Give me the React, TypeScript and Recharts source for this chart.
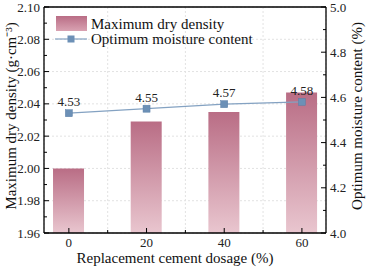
import React from 'react';
import {
  ComposedChart, Bar, Line, XAxis, YAxis, CartesianGrid, ReferenceLine, LabelList, Label
} from 'recharts';

const dosages = [0, 20, 40, 60];
const dryDensity = [2.0, 2.029, 2.035, 2.047];
const moisture = [4.53, 4.55, 4.57, 4.58];

const xTicks = [0, 10, 20, 30, 40, 50, 60];
const xMajor = [0, 20, 40, 60];
const xGrid = [10, 30, 50];
const leftTicks = [1.96, 1.97, 1.98, 1.99, 2.0, 2.01, 2.02, 2.03, 2.04, 2.05, 2.06, 2.07, 2.08, 2.09, 2.1];
const leftGrid = [1.98, 2.0, 2.02, 2.04, 2.06, 2.08];
const rightTicks = [4.0, 4.1, 4.2, 4.3, 4.4, 4.5, 4.6, 4.7, 4.8, 4.9, 5.0];

const data = dosages.map((d, i) => ({ x: d, density: dryDensity[i], moisture: moisture[i] }));

const FONT = '"Liberation Serif", "Times New Roman", serif';
const BAR_TOP = '#b96d85';
const BAR_BOTTOM = '#e9c6cf';
const LINE = '#84a2c2';
const MARKER = '#6c90b6';

const isMajor = (i: number) => i % 2 === 0;

const LeftTick = (props: any) => {
  const { x, y, payload, index } = props;
  const major = isMajor(index);
  return (
    <g>
      <line x1={x + 3} x2={x + 3 + (major ? 5 : 3)} y1={y} y2={y} stroke="#000" strokeWidth={1} />
      {major && (
        <text x={x - 1} y={y} dy={4.5} textAnchor="end" fontSize={13} fill="#222" fontFamily={FONT}>
          {payload.value.toFixed(2)}
        </text>
      )}
    </g>
  );
};

const RightTick = (props: any) => {
  const { x, y, payload, index } = props;
  const major = isMajor(index);
  return (
    <g>
      <line x1={x - 3} x2={x - 3 - (major ? 5 : 3)} y1={y} y2={y} stroke="#000" strokeWidth={1} />
      {major && (
        <text x={x + 1} y={y} dy={4.5} textAnchor="start" fontSize={13} fill="#222" fontFamily={FONT}>
          {payload.value.toFixed(1)}
        </text>
      )}
    </g>
  );
};

const BottomTick = (props: any) => {
  const { x, y, payload } = props;
  const major = xMajor.includes(payload.value);
  return (
    <g>
      <line x1={x} x2={x} y1={y - 3} y2={y - 3 - (major ? 5 : 3)} stroke="#000" strokeWidth={1} />
      {major && (
        <text x={x} y={y} dy={11} textAnchor="middle" fontSize={13} fill="#222" fontFamily={FONT}>
          {payload.value}
        </text>
      )}
    </g>
  );
};

const Square = (props: any) => {
  const { cx, cy } = props;
  if (cx == null || cy == null) return null;
  return <rect x={cx - 3.5} y={cy - 3.5} width={7} height={7} fill={MARKER} stroke="#5a7fa6" strokeWidth={0.5} />;
};

const ChartLegend = () => (
  <svg width={260} height={40} style={{ position: 'absolute', left: 50, top: 12 }}>
    <defs>
      <linearGradient id="legendGrad" x1="0" y1="0" x2="0" y2="1">
        <stop offset="0%" stopColor={BAR_TOP} />
        <stop offset="100%" stopColor="#d9a2b2" />
      </linearGradient>
    </defs>
    <rect x={6} y={4} width={31} height={15} fill="url(#legendGrad)" />
    <text x={41} y={16.5} fontSize={15} fill="#111" fontFamily={FONT}>Maximum dry density</text>
    <line x1={5} x2={37} y1={27} y2={27} stroke={LINE} strokeWidth={1.2} />
    <rect x={17.5} y={23.5} width={7} height={7} fill={MARKER} />
    <text x={41} y={32} fontSize={15} fill="#111" fontFamily={FONT}>Optimum moisture content</text>
  </svg>
);

export default function App() {
  return (
    <div style={{ position: 'absolute', left: 0, top: 0, width: 367, height: 270, background: '#fff' }}>
      <ComposedChart width={367} height={270} data={data} margin={{ top: 7, right: 0, bottom: 0, left: 0 }}>
        <defs>
          <linearGradient id="barGrad" x1="0" y1="0" x2="0" y2="1">
            <stop offset="0%" stopColor={BAR_TOP} />
            <stop offset="100%" stopColor={BAR_BOTTOM} />
          </linearGradient>
        </defs>
        <XAxis
          xAxisId="main"
          type="number"
          dataKey="x"
          domain={[-6.4, 66.2]}
          ticks={xTicks}
          allowDataOverflow
          height={37}
          tickSize={0}
          tickMargin={3}
          tick={<BottomTick />}
          interval={0}
          axisLine={{ stroke: '#000', strokeWidth: 1.3 }}
        >
          <Label value="Replacement cement dosage (%)" position="insideBottom" offset={7} dx={-10}
            style={{ fontSize: 15, fill: '#111', fontFamily: FONT }} />
        </XAxis>
        <YAxis
          yAxisId="left"
          type="number"
          domain={[1.96, 2.1]}
          ticks={leftTicks}
          allowDataOverflow
          width={44}
          tickSize={0}
          tickMargin={3}
          tick={<LeftTick />}
          interval={0}
          axisLine={{ stroke: '#000', strokeWidth: 1.3 }}
        >
          <Label
            value="Maximum dry density (g·cm⁻³)"
            angle={-90}
            position="insideLeft"
            offset={11}
            dy={-4}
            style={{ fontSize: 15, fill: '#111', fontFamily: FONT, textAnchor: 'middle' }}
          />
        </YAxis>
        <YAxis
          yAxisId="right"
          orientation="right"
          type="number"
          domain={[4, 5]}
          ticks={rightTicks}
          allowDataOverflow
          width={41}
          tickSize={0}
          tickMargin={3}
          tick={<RightTick />}
          interval={0}
          axisLine={{ stroke: '#000', strokeWidth: 1.3 }}
        >
          <Label
            value="Optimum moisture content (%)"
            angle={-90}
            position="insideRight"
            offset={10}
            dy={-4}
            style={{ fontSize: 15, fill: '#111', fontFamily: FONT, textAnchor: 'middle' }}
          />
        </YAxis>
        <XAxis xAxisId="grid" type="number" dataKey="x" domain={[-6.4, 66.2]} ticks={xGrid} hide height={0} allowDataOverflow />
        <YAxis yAxisId="gridY" type="number" domain={[1.96, 2.1]} ticks={leftGrid} hide width={0} allowDataOverflow />
        <CartesianGrid xAxisId="grid" yAxisId="gridY" stroke="#e2e2e2" strokeDasharray="2 2" />
        <ReferenceLine xAxisId="main" yAxisId="left" y={2.1} stroke="#000" strokeWidth={1.3} />
        <Bar xAxisId="main" yAxisId="left" dataKey="density" barSize={31} fill="url(#barGrad)" isAnimationActive={false} />
        <Line
          xAxisId="main"
          yAxisId="right"
          dataKey="moisture"
          stroke={LINE}
          strokeWidth={1.2}
          dot={<Square />}
          activeDot={false}
          isAnimationActive={false}
        >
          <LabelList dataKey="moisture" position="top" offset={7}
            style={{ fontSize: 13, fill: '#222', fontFamily: FONT }}
            formatter={(v: any) => Number(v).toFixed(2)} />
        </Line>
      </ComposedChart>
      <ChartLegend />
    </div>
  );
}
